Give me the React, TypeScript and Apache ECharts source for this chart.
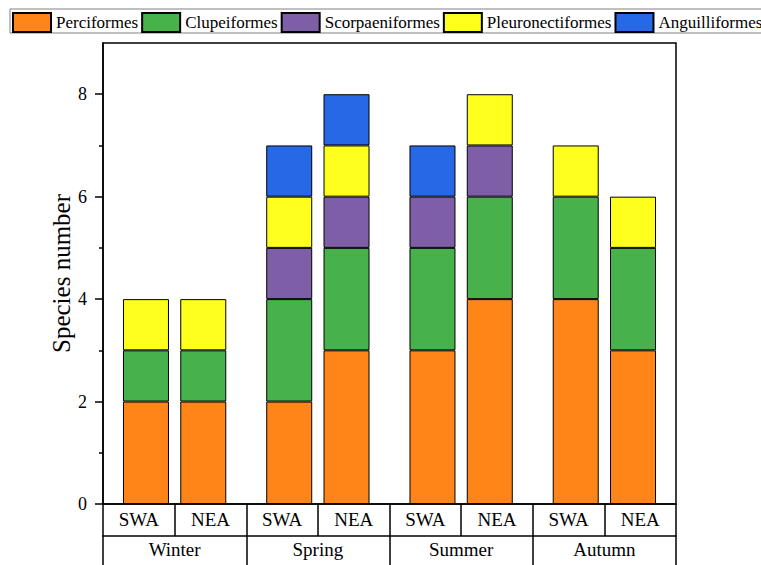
import React, { useEffect, useRef } from "react";
import * as echarts from "echarts";

const seasons = ["Winter", "Spring", "Summer", "Autumn"];
const sites = ["SWA", "NEA"];
const orders = ["Perciformes", "Clupeiformes", "Scorpaeniformes", "Pleuronectiformes", "Anguilliformes"];

// values per bar: Winter SWA, Winter NEA, Spring SWA, Spring NEA, Summer SWA, Summer NEA, Autumn SWA, Autumn NEA
const perciformes = [2, 2, 2, 3, 3, 4, 4, 3];
const clupeiformes = [1, 1, 2, 2, 2, 2, 2, 2];
const scorpaeniformes = [0, 0, 1, 1, 1, 1, 0, 0];
const pleuronectiformes = [1, 1, 1, 1, 0, 1, 1, 1];
const anguilliformes = [0, 0, 1, 1, 1, 0, 0, 0];

const yMajorTicks = [0, 2, 4, 6, 8];
const yMinorTicks = [1, 3, 5, 7];

const colors = ["#FF8518", "#47B24B", "#7F5EA8", "#FFFF1E", "#2768E6"];
const FONT = "'Liberation Serif', 'Times New Roman', serif";

export default function App() {
  const ref = useRef<HTMLDivElement>(null);
  useEffect(() => {
    if (!ref.current) return;
    const chart = echarts.init(ref.current, undefined, { renderer: "svg" });

    // bar slots: half-unit slots on a hidden category axis spanning [0.25, 10.25]
    const slotCount = 20;
    const slotNames = Array.from({ length: slotCount }, (_, i) => String((i + 1) / 2));
    const groupStride = 2.5;
    const barSlots: number[] = [];
    seasons.forEach((_, i) =>
      sites.forEach((_, j) => {
        const pos = 1 + i * groupStride + j;
        barSlots.push(pos * 2 - 1);
      })
    );
    const allSeries = [perciformes, clupeiformes, scorpaeniformes, pleuronectiformes, anguilliformes];
    const siteLabels: string[] = [];
    seasons.forEach(() => sites.forEach((s) => siteLabels.push(s)));
    const lineStyle = { color: "#000", width: 1.5 };

    chart.setOption({
      animation: false,
      grid: {
        left: 103,
        right: 85,
        top: 43,
        bottom: 61,
        show: true,
        borderColor: "#000",
        borderWidth: 1.5,
        backgroundColor: "transparent",
      },
      legend: {
        data: orders,
        left: 12,
        top: 12,
        width: 760,
        padding: 0,
        icon: "rect",
        itemWidth: 38,
        itemHeight: 19,
        itemGap: 3,
        textStyle: { fontFamily: FONT, fontSize: 17, color: "#000" },
      },
      graphic: [
        {
          type: "rect",
          shape: { x: 10, y: 9, width: 760, height: 24 },
          style: { fill: "none", stroke: "#808080", lineWidth: 1 },
          silent: true,
        },
      ],
      xAxis: [
        {
          type: "category",
          data: slotNames,
          boundaryGap: true,
          axisLine: { show: true, lineStyle },
          axisTick: { show: false },
          axisLabel: { show: false },
          splitLine: { show: false },
        },
        {
          type: "category",
          data: siteLabels,
          position: "bottom",
          offset: 0,
          axisLine: { show: false },
          axisTick: { show: true, length: 32, lineStyle },
          axisLabel: { interval: 0, margin: 6, fontFamily: FONT, fontSize: 19, color: "#000" },
          splitLine: { show: false },
        },
        {
          type: "category",
          data: seasons,
          position: "bottom",
          offset: 32,
          axisLine: { show: true, lineStyle },
          axisTick: { show: true, length: 29, lineStyle },
          axisLabel: { interval: 0, margin: 4, fontFamily: FONT, fontSize: 19, color: "#000" },
          splitLine: { show: false },
        },
      ],
      yAxis: [
        {
          type: "value",
          min: 0,
          max: 9,
          name: "Species number",
          nameLocation: "middle",
          nameGap: 29,
          nameMoveOverlap: false,
          nameTextStyle: { fontFamily: FONT, fontSize: 25, color: "#000" },
          axisLine: { show: true, lineStyle },
          axisTick: { show: true, length: 8, lineStyle, customValues: yMajorTicks },
          axisLabel: { margin: 16, fontFamily: FONT, fontSize: 18, color: "#000", customValues: yMajorTicks },
          splitLine: { show: false },
        },
        {
          type: "value",
          min: 0,
          max: 9,
          position: "left",
          axisLine: { show: false },
          axisTick: { show: true, length: 4, lineStyle, customValues: yMinorTicks },
          axisLabel: { show: false },
          splitLine: { show: false },
        },
      ],
      series: orders.map((name, k) => {
        const data: (number | null)[] = new Array(slotCount).fill(null);
        barSlots.forEach((slot, idx) => {
          const v = allSeries[k][idx];
          data[slot] = v === 0 ? null : v;
        });
        return {
          name,
          type: "bar",
          stack: "total",
          xAxisIndex: 0,
          yAxisIndex: 0,
          barWidth: 46,
          itemStyle: { color: colors[k], borderColor: "#000", borderWidth: 1 },
          data,
        };
      }),
    });
    return () => chart.dispose();
  }, []);
  return (
    <div
      ref={ref}
      style={{ position: "fixed", left: 0, top: 0, width: 761, height: 565, background: "#fff" }}
    />
  );
}
